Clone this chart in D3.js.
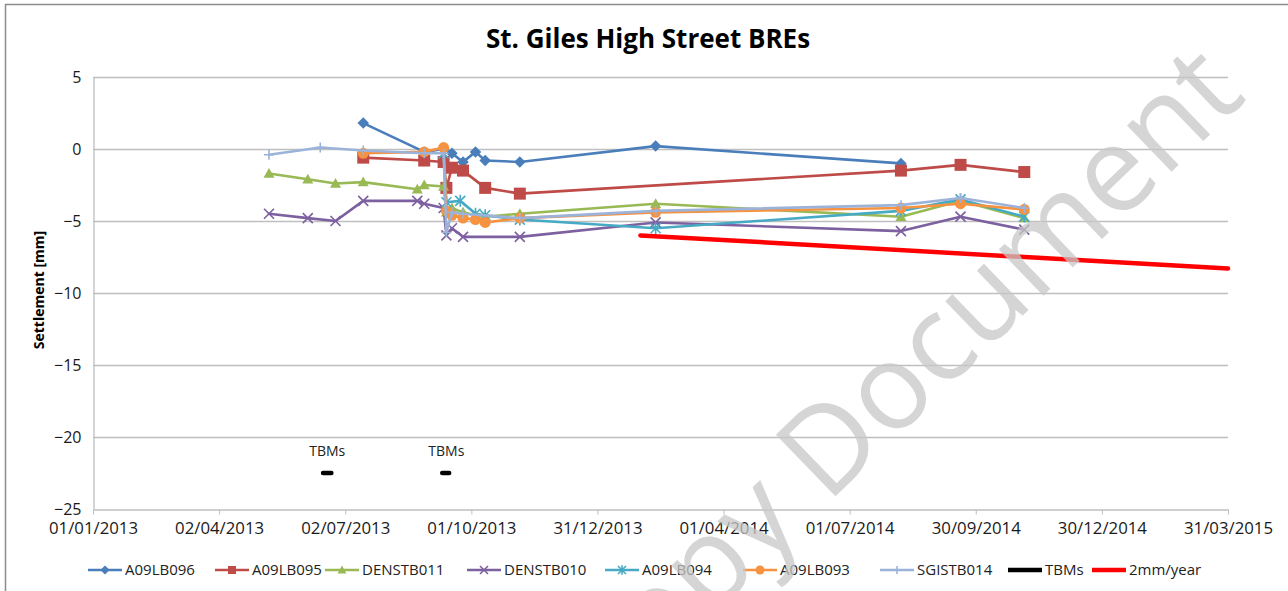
<!DOCTYPE html>
<html>
<head>
<meta charset="utf-8">
<script src="https://cdn.jsdelivr.net/npm/d3@7"></script>
<style>
  body { margin: 0; background: #fff; }
  svg { display: block; font-family: "Open Sans", sans-serif; }
</style>
</head>
<body>
<svg id="chart" width="1288" height="591"></svg>
<script>
// ---- data ----
const A09LB096 = [["2013-07-15", 1.8], ["2013-08-28", -0.2], ["2013-09-11", 0.0], ["2013-09-17", -0.3],
  ["2013-09-25", -0.9], ["2013-10-04", -0.2], ["2013-10-11", -0.8], ["2013-11-05", -0.9],
  ["2014-02-11", 0.2], ["2014-08-07", -1.0]];
const A09LB095 = [["2013-07-15", -0.6], ["2013-08-28", -0.8], ["2013-09-11", -0.9], ["2013-09-13", -2.7],
  ["2013-09-17", -1.3], ["2013-09-25", -1.5], ["2013-10-11", -2.7], ["2013-11-05", -3.1],
  ["2014-08-07", -1.5], ["2014-09-19", -1.1], ["2014-11-04", -1.6]];
const DENSTB011 = [["2013-05-08", -1.7], ["2013-06-05", -2.1], ["2013-06-25", -2.4], ["2013-07-15", -2.3],
  ["2013-08-23", -2.8], ["2013-08-28", -2.5], ["2013-09-11", -2.6], ["2013-09-13", -4.4],
  ["2013-09-17", -4.1], ["2013-09-25", -4.4], ["2013-10-04", -4.6], ["2013-10-11", -4.7],
  ["2013-11-05", -4.5], ["2014-02-11", -3.8], ["2014-08-07", -4.7], ["2014-09-19", -3.6], ["2014-11-04", -4.8]];
const DENSTB010 = [["2013-05-08", -4.5], ["2013-06-05", -4.8], ["2013-06-25", -5.0], ["2013-07-15", -3.6],
  ["2013-08-23", -3.6], ["2013-08-28", -3.8], ["2013-09-11", -4.1], ["2013-09-13", -6.0],
  ["2013-09-17", -5.5], ["2013-09-25", -6.1], ["2013-11-05", -6.1], ["2014-02-11", -5.1],
  ["2014-08-07", -5.7], ["2014-09-19", -4.7], ["2014-11-04", -5.6]];
const A09LB094 = [["2013-09-11", -0.3], ["2013-09-13", -3.7], ["2013-09-23", -3.6], ["2013-10-04", -4.5],
  ["2013-10-11", -4.6], ["2013-11-05", -4.9], ["2014-02-11", -5.5], ["2014-08-07", -4.3],
  ["2014-09-19", -3.5], ["2014-11-04", -4.7]];
const A09LB093 = [["2013-07-15", -0.3], ["2013-08-28", -0.2], ["2013-09-11", 0.1], ["2013-09-13", -4.3],
  ["2013-09-17", -4.6], ["2013-09-25", -4.8], ["2013-10-04", -4.9], ["2013-10-11", -5.1],
  ["2013-11-05", -4.8], ["2014-02-11", -4.4], ["2014-08-07", -4.1], ["2014-09-19", -3.8], ["2014-11-04", -4.2]];
const SGISTB014 = [["2013-05-08", -0.4], ["2013-06-14", 0.1], ["2013-07-15", -0.1], ["2013-08-28", -0.3],
  ["2013-09-11", -0.3], ["2013-09-13", -5.8], ["2013-09-17", -4.4], ["2013-09-25", -4.5],
  ["2013-11-05", -4.8], ["2014-02-11", -4.3], ["2014-08-07", -3.9], ["2014-09-19", -3.4], ["2014-11-04", -4.1]];
const TBMs = [["2013-06-16", -22.5], ["2013-06-22", -22.5], null, ["2013-09-10", -22.5], ["2013-09-15", -22.5]];
const rate2mm = [["2014-01-31", -6.0], ["2015-03-31", -8.3]];

const tbmLabelDates = ["2013-06-19", "2013-09-13"];
const xTickDates = ["2013-01-01", "2013-04-02", "2013-07-02", "2013-10-01", "2013-12-31",
  "2014-04-01", "2014-07-01", "2014-09-30", "2014-12-30", "2015-03-31"];
const yTicks = [5, 0, -5, -10, -15, -20, -25];

// ---- styles ----
const series = [
  { name: "A09LB096", data: A09LB096, color: "#4A7EBB", marker: "diamond" },
  { name: "A09LB095", data: A09LB095, color: "#BE4B48", marker: "square" },
  { name: "DENSTB011", data: DENSTB011, color: "#98B954", marker: "triangle" },
  { name: "DENSTB010", data: DENSTB010, color: "#7D60A0", marker: "x" },
  { name: "A09LB094", data: A09LB094, color: "#46AAC5", marker: "star" },
  { name: "A09LB093", data: A09LB093, color: "#F69240", marker: "circle" },
  { name: "SGISTB014", data: SGISTB014, color: "#9BB3D9", marker: "plus" },
  { name: "TBMs", data: TBMs, color: "#000000", marker: null, width: 4.5 },
  { name: "2mm/year", data: rate2mm, color: "#FF0000", marker: null, width: 4.5 }
];
const legendX = [88, 215, 325, 467, 605, 743, 880, 1008, 1092];

const parse = d3.utcParse("%Y-%m-%d");
const svg = d3.select("#chart");

const x = d3.scaleUtc().domain([parse("2013-01-01"), parse("2015-03-31")]).range([93, 1228]);
const y = d3.scaleLinear().domain([-25, 5]).range([509, 77]);

// outer frame
svg.append("rect").attr("x", 5.5).attr("y", 4.5).attr("width", 1300).attr("height", 620)
  .attr("fill", "#fff").attr("stroke", "#8c8c8c").attr("stroke-width", 1.5);

// title
svg.append("text").attr("x", 648).attr("y", 48).attr("text-anchor", "middle")
  .attr("font-size", 26).attr("font-weight", "bold").attr("fill", "#000")
  .text("St. Giles High Street BREs");

// grid
svg.append("g").selectAll("line").data(yTicks.filter(d => d !== -25)).join("line")
  .attr("x1", 93).attr("x2", 1228).attr("y1", d => y(d) + 0.5).attr("y2", d => y(d) + 0.5)
  .attr("stroke", "#bfbfbf").attr("stroke-width", 1.3);

// y axis
const yAxis = svg.append("g").attr("transform", "translate(93.5,0)")
  .call(d3.axisLeft(y).tickValues(yTicks).tickSize(0).tickPadding(12));
yAxis.select(".domain").attr("stroke", "#bfbfbf").attr("stroke-width", 1.3);
yAxis.selectAll("text").attr("font-size", 16).attr("fill", "#1a1a1a").attr("font-family", "Open Sans");

// x axis
const xAxis = svg.append("g").attr("transform", "translate(0,509.5)")
  .call(d3.axisBottom(x).tickValues(xTickDates.map(parse)).tickSize(5).tickSizeOuter(0)
    .tickPadding(8).tickFormat(d3.utcFormat("%d/%m/%Y")));
xAxis.select(".domain").attr("stroke", "#bfbfbf").attr("stroke-width", 1.3);
xAxis.selectAll(".tick line").attr("stroke", "#bfbfbf");
xAxis.selectAll("text").attr("font-size", 16.8).attr("fill", "#1a1a1a").attr("font-family", "Open Sans");

// y label
svg.append("text").attr("transform", "translate(44,290) rotate(-90)").attr("text-anchor", "middle")
  .attr("font-size", 14).attr("font-weight", "bold").text("Settlement [mm]");

// marker paths
function markerPath(type, s) {
  const h = s / 2;
  switch (type) {
    case "diamond": return `M0,${-h * 1.15}L${h * 1.15},0L0,${h * 1.15}L${-h * 1.15},0Z`;
    case "square": return `M${-h},${-h}H${h}V${h}H${-h}Z`;
    case "triangle": return `M0,${-h * 1.1}L${h * 1.1},${h * 0.85}L${-h * 1.1},${h * 0.85}Z`;
    case "x": return `M${-h},${-h}L${h},${h}M${-h},${h}L${h},${-h}`;
    case "star": return `M${-h},${-h}L${h},${h}M${-h},${h}L${h},${-h}M0,${-h * 1.2}V${h * 1.2}`;
    case "plus": return `M${-h},0H${h}M0,${-h}V${h}`;
  }
  return "";
}
function drawMarker(g, type, color, s) {
  if (type === "circle") {
    g.append("circle").attr("r", s / 2 + 0.5).attr("fill", color);
  } else if (type === "x" || type === "star" || type === "plus") {
    g.append("path").attr("d", markerPath(type, s)).attr("fill", "none")
      .attr("stroke", color).attr("stroke-width", 1.6);
  } else {
    g.append("path").attr("d", markerPath(type, s)).attr("fill", color);
  }
}

// series lines and markers
const line = d3.line().defined(d => d !== null).x(d => x(parse(d[0]))).y(d => y(d[1]));
series.forEach(s => {
  const g = svg.append("g");
  g.append("path").attr("d", line(s.data)).attr("fill", "none").attr("stroke", s.color)
    .attr("stroke-width", s.width || 2.6).attr("stroke-linejoin", "round").attr("stroke-linecap", "round");
  if (s.marker) {
    s.data.forEach(d => {
      const m = g.append("g").attr("transform", `translate(${x(parse(d[0]))},${y(d[1])})`);
      drawMarker(m, s.marker, s.color, s.marker === "square" ? 12 : 10);
    });
  }
});

// TBMs labels
svg.append("g").selectAll("text").data(tbmLabelDates).join("text")
  .attr("x", d => x(parse(d))).attr("y", 456).attr("text-anchor", "middle")
  .attr("font-size", 14).attr("fill", "#222").text("TBMs");

// legend
const leg = svg.append("g").attr("transform", "translate(0,570)");
series.forEach((s, i) => {
  const g = leg.append("g").attr("transform", `translate(${legendX[i]},0)`);
  g.append("line").attr("x1", 0).attr("x2", 34).attr("stroke", s.color)
    .attr("stroke-width", s.width ? 4.5 : 2.6);
  if (s.marker) {
    const m = g.append("g").attr("transform", "translate(17,0)");
    drawMarker(m, s.marker, s.color, 8);
  }
  g.append("text").attr("x", 37).attr("dy", "0.35em").attr("font-size", 15)
    .attr("fill", "#222").text(s.name);
});

// watermark
svg.append("text").attr("transform", "translate(1248,98) rotate(-44)")
  .attr("text-anchor", "end").attr("font-size", 120).attr("fill", "#c8c8c8")
  .attr("opacity", 0.75).text("Copy Document");
</script>
</body>
</html>
